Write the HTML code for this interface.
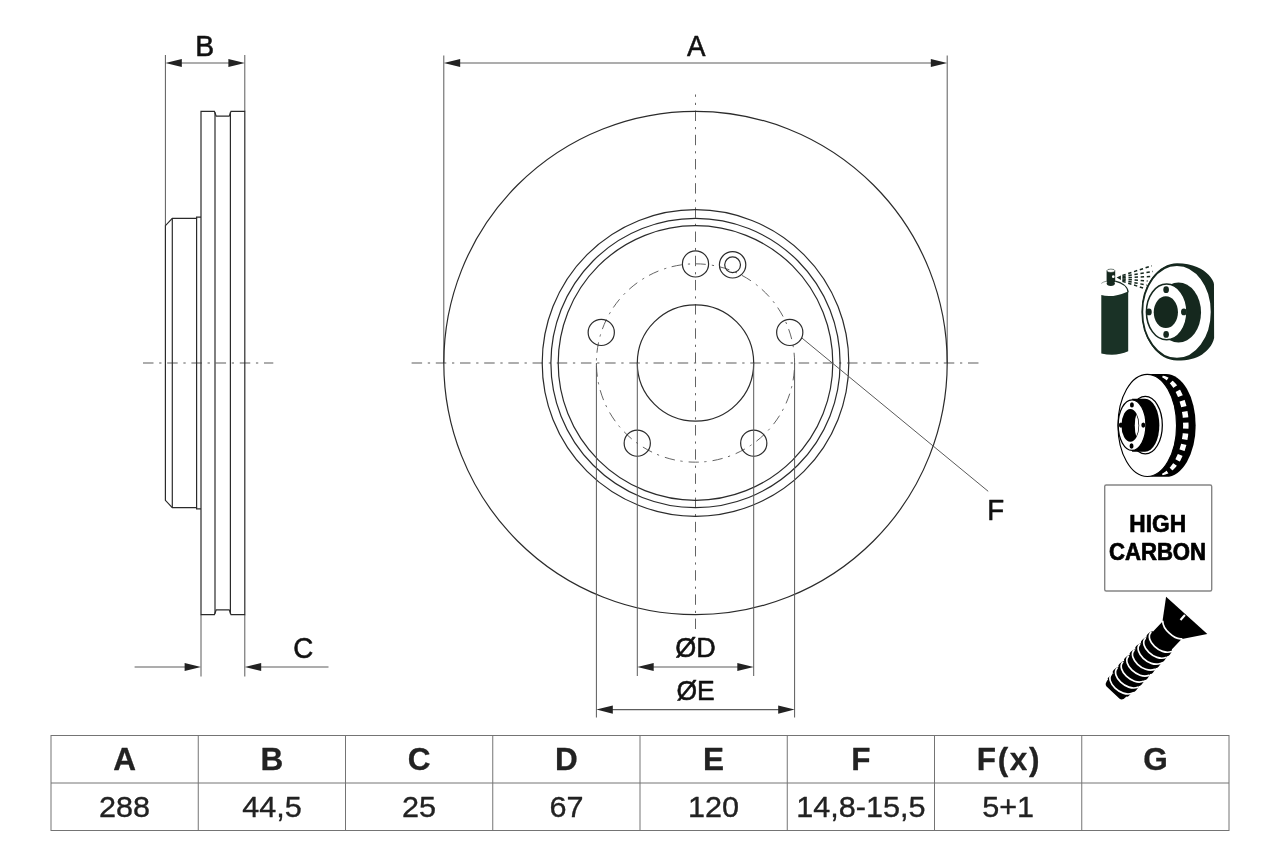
<!DOCTYPE html>
<html lang="en"><head><meta charset="utf-8"><title>Brake disc dimensions</title>
<style>
html,body{margin:0;padding:0;background:#fff;}
body{width:1280px;height:853px;overflow:hidden;font-family:"Liberation Sans",sans-serif;}
svg{display:block;will-change:transform;}
text{font-family:"Liberation Sans",sans-serif;}
.o{fill:none;stroke:#2b2b2b;stroke-width:1.2;}
.e{fill:none;stroke:#5a5a5a;stroke-width:1;}
.d{fill:none;stroke:#5c5c5c;stroke-width:1.05;}
.c{fill:none;stroke:#5c5c5c;stroke-width:1.1;stroke-dasharray:10.5 5.68 2.3 5.71;}
.t{fill:none;stroke:#5c5c5c;stroke-width:0.95;}
.lbl{font-size:28.9px;fill:#111;stroke:#111;stroke-width:0.55px;stroke-linejoin:round;}
.th{font-size:31.5px;font-weight:bold;fill:#222;stroke:#222;stroke-width:0.3px;stroke-linejoin:round;text-anchor:middle;}
.td{font-size:30px;fill:#222;stroke:#222;stroke-width:0.35px;stroke-linejoin:round;text-anchor:middle;}
.ar{fill:#222;stroke:none;}
</style></head><body>
<svg width="1280" height="853" viewBox="0 0 1280 853">
<rect width="1280" height="853" fill="#fff"/>
<g id="side-view">
<line class="c" x1="143" y1="363.0" x2="273.3" y2="363.0"/>
<line class="e" x1="165.4" y1="55" x2="165.4" y2="225.7"/>
<line class="e" x1="244.8" y1="55" x2="244.8" y2="111.30000000000001"/>
<line class="e" x1="201.0" y1="614.7" x2="201.0" y2="676.5"/>
<line class="e" x1="244.8" y1="614.7" x2="244.8" y2="676.5"/>
<path class="o" d="M201.0,111.30000000000001 H214.4 L216.2,116.10000000000001 H229.20000000000002 L231.0,111.30000000000001 H244.8 V614.7 H231.0 L229.20000000000002,609.9000000000001 H216.2 L214.4,614.7 H201.0 Z"/>
<line class="o" x1="215.0" y1="112.30000000000001" x2="215.0" y2="613.7"/>
<line class="o" x1="230.4" y1="112.30000000000001" x2="230.4" y2="613.7"/>
<path class="o" d="M201.0,217.20000000000002 H196.6 V218.4 H172.3 L165.4,225.7 V500.3 L172.3,507.6 H196.6 V508.8 H201.0"/>
<line class="o" x1="172.3" y1="218.4" x2="172.3" y2="507.6"/>
<line class="o" x1="196.6" y1="218.4" x2="196.6" y2="507.6"/>
<line class="d" x1="179.4" y1="63" x2="230.8" y2="63"/>
<g class="ar"><polygon points="165.40,63.00 181.80,58.90 181.80,67.10"/><polygon points="244.80,63.00 228.40,58.90 228.40,67.10"/></g>
<text class="lbl" transform="translate(204.8 55.6) scale(0.98 1)" text-anchor="middle">B</text>
<line class="d" x1="134.6" y1="667" x2="187.0" y2="667"/>
<line class="d" x1="258.8" y1="667" x2="328.5" y2="667"/>
<g class="ar"><polygon points="201.00,667.00 184.60,662.90 184.60,671.10"/><polygon points="244.80,667.00 261.20,662.90 261.20,671.10"/></g>
<text class="lbl" transform="translate(303.3 658.2) scale(0.96 1)" text-anchor="middle">C</text>
</g>
<g id="front-view">
<line class="c" x1="411.6" y1="363.0" x2="978.5" y2="363.0"/>
<line class="t" x1="695.5" y1="629" x2="695.5" y2="94.5" stroke-dasharray="10.4 5.6 2.2 5.99"/>
<line class="e" x1="443.80" y1="55.5" x2="443.80" y2="363.0"/>
<line class="e" x1="947.20" y1="55.5" x2="947.20" y2="363.0"/>
<line class="d" x1="457.80" y1="63" x2="933.20" y2="63"/>
<g class="ar"><polygon points="443.80,63.00 460.20,58.90 460.20,67.10"/><polygon points="947.20,63.00 930.80,58.90 930.80,67.10"/></g>
<text class="lbl" transform="translate(696.2 55.7) scale(0.96 1)" text-anchor="middle">A</text>
<circle class="o" cx="695.5" cy="363.0" r="251.7"/>
<circle class="o" cx="695.5" cy="363.0" r="153.3"/>
<circle class="o" cx="695.5" cy="363.0" r="144.6"/>
<circle class="o" cx="695.5" cy="363.0" r="137.3"/>
<circle class="o" cx="695.5" cy="363.0" r="58.2"/>
<path class="t" d="M794.6,363.0 A99.1,99.1 0 1 0 596.4,363.0 A99.1,99.1 0 1 0 794.6,363.0" stroke-dasharray="10.4 5.55 2.2 6.03"/>
<circle class="o" cx="695.50" cy="263.90" r="13.1"/>
<circle class="o" cx="789.75" cy="332.38" r="13.1"/>
<circle class="o" cx="753.75" cy="443.17" r="13.1"/>
<circle class="o" cx="637.25" cy="443.17" r="13.1"/>
<circle class="o" cx="601.25" cy="332.38" r="13.1"/>
<circle class="o" cx="732.6" cy="264.8" r="13.2"/>
<circle class="o" cx="732.6" cy="264.8" r="7.9"/>
<line class="e" x1="801.9" y1="338" x2="988.2" y2="491.3"/>
<text class="lbl" transform="translate(987.2 520.3) scale(0.96 1)">F</text>
<line class="e" x1="637.30" y1="363.0" x2="637.30" y2="676"/>
<line class="e" x1="753.70" y1="363.0" x2="753.70" y2="676"/>
<line class="e" x1="596.40" y1="363.0" x2="596.40" y2="717.5"/>
<line class="e" x1="794.60" y1="363.0" x2="794.60" y2="717.5"/>
<line class="d" x1="651.30" y1="667" x2="739.70" y2="667"/>
<line class="d" x1="610.40" y1="709.6" x2="780.60" y2="709.6"/>
<g class="ar"><polygon points="637.30,667.00 653.70,662.90 653.70,671.10"/><polygon points="753.70,667.00 737.30,662.90 737.30,671.10"/><polygon points="596.40,709.60 612.80,705.50 612.80,713.70"/><polygon points="794.60,709.60 778.20,705.50 778.20,713.70"/></g>
<text class="lbl" transform="translate(695.6 656.8) scale(1 1)" text-anchor="middle" style="font-size:27px">ØD</text>
<text class="lbl" transform="translate(695.6 699.5) scale(0.98 1)" text-anchor="middle" style="font-size:27px">ØE</text>
</g>
<g id="icon-spray" fill="#15281e" stroke="none">
<path d="M1101.3,295.0 Q1112,298.4 1128.2,291.4 V351.3 Q1116,356.8 1101.3,353.5 Z" fill="#1a3226"/>
<path d="M1115.2,281.2 C1121.5,282.6 1127.6,286.4 1128.1,292.2" fill="none" stroke="#15281e" stroke-width="1.3"/>
<path d="M1106.6,281.2 C1104.4,281.6 1102.6,282.4 1101.4,283.4" fill="none" stroke="#6f7a74" stroke-width="0.8"/>
<ellipse cx="1110.8" cy="283.6" rx="4.1" ry="2.3"/>
<rect x="1106.6" y="270.8" width="8.6" height="11.4"/>
<ellipse cx="1110.9" cy="270.8" rx="4.0" ry="1.7" fill="#fff" stroke="#15281e" stroke-width="0.6"/>
<circle cx="1113.3" cy="276.7" r="1.35" fill="#fff"/>
<polygon points="1116.6,277.6 1120.9,275.6 1120.9,280.0"/>
<g fill="none" stroke="#15281e" stroke-width="1.5" stroke-dasharray="3.4 2.7">
<line x1="1122.4" y1="275.4" x2="1151.8" y2="265.8"/>
<line x1="1122.4" y1="276.6" x2="1153.0" y2="271.4"/>
<line x1="1122.4" y1="277.8" x2="1151.8" y2="276.5"/>
<line x1="1122.4" y1="279.0" x2="1147.6" y2="281.0"/>
<line x1="1122.4" y1="280.2" x2="1146.8" y2="285.2"/>
<line x1="1122.4" y1="281.3" x2="1145.0" y2="288.6"/>
</g>
<g transform="translate(1080 250) scale(0.140726)">
<path d="M690,94 C800,94 880,138 915,178 C936,202 952,228 952,244 L953,626 C942,680 902,720 868,742 C820,772 770,785 690,785 C560,785 440,640 440,440 C440,240 560,94 690,94 Z"/>
<ellipse cx="689" cy="440" rx="246.5" ry="333" fill="#fff" stroke="#15281e" stroke-width="13"/>
<ellipse cx="700" cy="444" rx="160" ry="213"/>
<ellipse cx="616" cy="440" rx="144" ry="198" fill="#fff" stroke="#15281e" stroke-width="11"/>
<ellipse cx="610" cy="442" rx="86" ry="113"/>
<ellipse cx="612" cy="282" rx="20" ry="24"/>
<ellipse cx="612" cy="600" rx="20" ry="24"/>
<ellipse cx="490" cy="440" rx="20" ry="24"/>
<ellipse cx="738" cy="440" rx="20" ry="24"/>
</g></g>
<g id="icon-vented" fill="#000" stroke="none">
<g transform="translate(1080 360) scale(0.140726)">
<path d="M478,100 H612 A210,365 0 0 1 612,830 H478 Z"/>
<clipPath id="ventclip"><path d="M527,109 A206,356 0 0 1 527,821 H567 A206,356 0 0 0 567,109 Z"/></clipPath>
<path clip-path="url(#ventclip)" d="M547,100 A210,365 0 0 1 547,830" fill="none" stroke="#fff" stroke-width="160" stroke-dasharray="0 43 44 35 44 35 44 35 44 35 44 35 44 35 44 35 44 35 44 35 44 35 44 2000"/>
<ellipse cx="478" cy="465" rx="208" ry="363" fill="#fff" stroke="#000" stroke-width="8"/>
<ellipse cx="464" cy="463" rx="121" ry="204" fill="#fff" stroke="#000" stroke-width="9"/>
<path d="M370,276 H462 A102,188 0 0 1 462,652 H370 Z"/>
<ellipse cx="370" cy="462.5" rx="98.5" ry="179.5" fill="#fff" stroke="#000" stroke-width="9"/>
<clipPath id="boreclip"><ellipse cx="357.7" cy="465" rx="58" ry="111.5"/></clipPath>
<ellipse cx="357.7" cy="465" rx="63" ry="116.5"/>
<ellipse cx="432.4" cy="465" rx="43.3" ry="120" fill="#fff" clip-path="url(#boreclip)"/>
<ellipse cx="369" cy="319" rx="14" ry="19"/>
<ellipse cx="449.7" cy="462.5" rx="14" ry="19"/>
<ellipse cx="366.4" cy="611.3" rx="14" ry="19"/>
<ellipse cx="291" cy="462.5" rx="15" ry="19"/>
</g></g>
<g id="icon-carbon">
<rect x="1104.7" y="485" width="107" height="106" rx="1.5" fill="#fff" stroke="#858585" stroke-width="1.4"/>
<text transform="translate(1157.7 532.2) scale(0.97 1)" text-anchor="middle" style="font-size:23.4px;font-weight:bold;fill:#000;stroke:#000;stroke-width:0.7px;stroke-linejoin:round">HIGH</text>
<text transform="translate(1157.5 560.2) scale(0.947 1)" text-anchor="middle" style="font-size:23.4px;font-weight:bold;fill:#000;stroke:#000;stroke-width:0.7px;stroke-linejoin:round">CARBON</text>
</g>
<g id="icon-screw" transform="translate(1186.7 615.3) rotate(42.1)">
<path d="M-27.8,0 H27.8 L12.4,20.6 L-13.6,21.2 Z" fill="#000"/>
<g transform="translate(-0.8 0) rotate(1.3 0 20.8)">
<path d="M-13.0,20 H13.0 V34.8 Q15.2,36.8 15.2,40.3 Q15.2,42.8 14.0,43.0 Q15.2,45.0 15.2,48.5 Q15.2,51.0 14.0,51.2 Q15.2,53.199999999999996 15.2,56.699999999999996 Q15.2,59.199999999999996 14.0,59.39999999999999 Q15.2,61.39999999999999 15.2,64.89999999999999 Q15.2,67.39999999999999 14.0,67.6 Q15.2,69.6 15.2,73.1 Q15.2,75.6 14.0,75.8 Q15.2,77.8 15.2,81.3 Q15.2,83.8 14.0,84.0 Q15.2,86.0 15.2,89.5 Q15.2,92.0 14.0,92.2 Q13.6,94.19999999999999 13.6,97.69999999999999 Q13.6,100.19999999999999 12.5,100.39999999999999 Q12.5,106.6 9,106.8 H-9 Q-12.5,106.6 -12.8,100.39999999999999 Q-14.0,101.19999999999999 -14.0,97.69999999999999 Q-14.0,93.19999999999999 -13.0,92.19999999999999 Q-15.2,93.0 -15.2,89.5 Q-15.2,85.0 -13.0,84.0 Q-15.2,84.8 -15.2,81.3 Q-15.2,76.8 -13.0,75.8 Q-15.2,76.6 -15.2,73.1 Q-15.2,68.6 -13.0,67.6 Q-15.2,68.39999999999999 -15.2,64.89999999999999 Q-15.2,60.39999999999999 -13.0,59.39999999999999 Q-15.2,60.199999999999996 -15.2,56.699999999999996 Q-15.2,52.199999999999996 -13.0,51.199999999999996 Q-15.2,52.0 -15.2,48.5 Q-15.2,44.0 -13.0,43.0 Q-15.2,43.8 -15.2,40.3 Q-15.2,35.8 -13.0,34.8 Z" fill="#000"/>
<g fill="none" stroke="#fff" stroke-width="1.7" stroke-linecap="round">
<path d="M-12.8,20.9 C-8,26.2 8,26.6 12.9,20.5"/>
<path d="M-13.9,37.1 C-13.6,46.9 9,47.7 14.2,36.7"/>
<path d="M-13.9,45.3 C-13.6,55.1 9,55.9 14.2,44.9"/>
<path d="M-13.9,53.5 C-13.6,63.3 9,64.1 14.2,53.1"/>
<path d="M-13.9,61.7 C-13.6,71.5 9,72.3 14.2,61.3"/>
<path d="M-13.9,69.9 C-13.6,79.7 9,80.5 14.2,69.5"/>
<path d="M-13.9,78.1 C-13.6,87.9 9,88.7 14.2,77.7"/>
<path d="M-13.9,86.3 C-13.6,96.1 9,96.9 14.2,85.9"/>
<path d="M-13.9,94.5 C-13.6,104.3 9,105.1 14.2,94.1"/>
</g></g>
<line x1="-1.5" y1="1.0" x2="-1.5" y2="7.6" stroke="#fff" stroke-width="2.1"/>
</g>

<g id="table">
<g fill="none" stroke="#747474" stroke-width="1">
<rect x="51.0" y="735.5" width="1178.0" height="95.0"/>
<line x1="51.0" y1="783.0" x2="1229.0" y2="783.0"/>
<line x1="198.25" y1="735.5" x2="198.25" y2="830.5"/>
<line x1="345.5" y1="735.5" x2="345.5" y2="830.5"/>
<line x1="492.75" y1="735.5" x2="492.75" y2="830.5"/>
<line x1="640.0" y1="735.5" x2="640.0" y2="830.5"/>
<line x1="787.25" y1="735.5" x2="787.25" y2="830.5"/>
<line x1="934.5" y1="735.5" x2="934.5" y2="830.5"/>
<line x1="1081.75" y1="735.5" x2="1081.75" y2="830.5"/>
</g>
<text class="th" x="124.6" y="770.4">A</text>
<text class="td" transform="translate(124.6 817.3) scale(1.02 1)">288</text>
<text class="th" x="271.9" y="770.4">B</text>
<text class="td" transform="translate(271.9 817.3) scale(1.02 1)">44,5</text>
<text class="th" x="419.1" y="770.4">C</text>
<text class="td" transform="translate(419.1 817.3) scale(1.02 1)">25</text>
<text class="th" x="566.4" y="770.4">D</text>
<text class="td" transform="translate(566.4 817.3) scale(1.02 1)">67</text>
<text class="th" x="713.6" y="770.4">E</text>
<text class="td" transform="translate(713.6 817.3) scale(1.02 1)">120</text>
<text class="th" x="860.9" y="770.4">F</text>
<text class="td" transform="translate(860.9 817.3) scale(1.02 1)">14,8-15,5</text>
<text class="th" x="1008.9" y="770.4" style="letter-spacing:1.6px">F(x)</text>
<text class="td" transform="translate(1008.1 817.3) scale(1.02 1)">5+1</text>
<text class="th" x="1155.4" y="770.4">G</text>
</g>
</svg>
</body></html>
